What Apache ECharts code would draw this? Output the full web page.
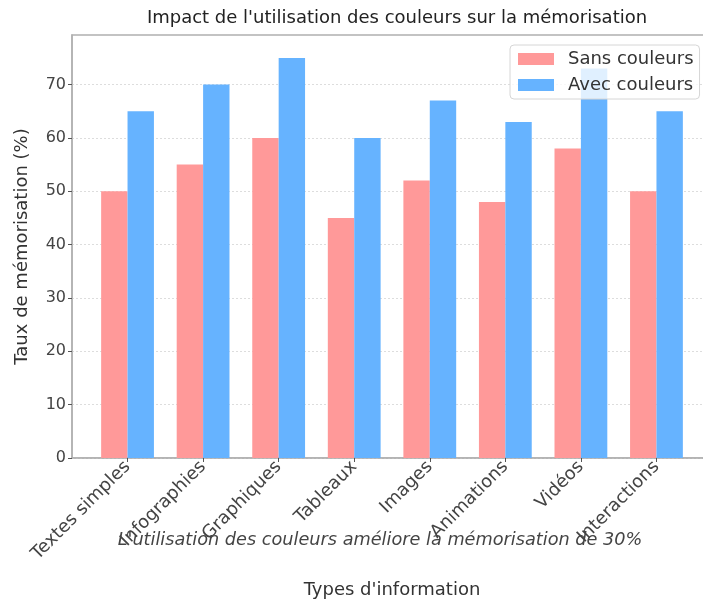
<!DOCTYPE html>
<html>
<head>
<meta charset="utf-8">
<script src="https://cdn.jsdelivr.net/npm/echarts@6/dist/echarts.min.js"></script>
<style>
html,body{margin:0;padding:0;background:#fff;}
#chart{width:703px;height:599px;}
</style>
</head>
<body>
<div id="chart"></div>
<script>
const categories = ["Textes simples", "Infographies", "Graphiques", "Tableaux", "Images", "Animations", "Vidéos", "Interactions"];
const sansCouleurs = [50, 55, 60, 45, 52, 48, 58, 50];
const avecCouleurs = [65, 70, 75, 60, 67, 63, 73, 65];
const yTicks = [0, 10, 20, 30, 40, 50, 60, 70];

const FONT = "DejaVu Sans";
const chart = echarts.init(document.getElementById('chart'), null, {renderer: 'canvas'});
const idx = categories.map((c, i) => i);

chart.setOption({
  animation: false,
  backgroundColor: '#ffffff',
  textStyle: {fontFamily: FONT},
  title: {
    text: "Impact de l'utilisation des couleurs sur la mémorisation",
    left: 392, top: 4, textAlign: 'center',
    textStyle: {fontFamily: FONT, fontSize: 18, fontWeight: 'normal', color: '#222'}
  },
  legend: {
    data: ['Sans couleurs', 'Avec couleurs'],
    orient: 'vertical',
    left: 510, top: 45,
    icon: 'rect',
    itemWidth: 36, itemHeight: 12, itemGap: 8,
    padding: [5, 6, 5, 8],
    backgroundColor: 'rgba(255,255,255,0.8)',
    borderColor: '#d6d6d6', borderWidth: 1, borderRadius: 4,
    textStyle: {fontFamily: FONT, fontSize: 18, color: '#333', padding: [0, 0, 0, 9]}
  },
  grid: {
    left: 72, top: 35, width: 640, bottom: 141,
    outerBoundsMode: 'none', containLabel: false,
    show: true, borderColor: '#b0b0b0', borderWidth: 1.5, backgroundColor: 'transparent'
  },
  xAxis: {
    type: 'value',
    min: -0.735, max: 7.735,
    axisLine: {show: true, onZero: false, lineStyle: {color: '#b0b0b0', width: 1.5}},
    splitLine: {show: false},
    axisTick: {show: true, customValues: idx, length: 4, lineStyle: {color: '#555'}},
    axisLabel: {
      customValues: idx,
      formatter: v => categories[Math.round(v)],
      rotate: 45, fontSize: 18, color: '#444', margin: 6, fontFamily: FONT
    },
    name: "Types d'information",
    nameLocation: 'middle', nameGap: 123,
    nameTextStyle: {fontFamily: FONT, fontSize: 18, color: '#333'}
  },
  yAxis: {
    type: 'value',
    min: 0, max: 79.3, interval: 10,
    axisLine: {show: true, onZero: false, lineStyle: {color: '#b0b0b0', width: 1.5}},
    axisTick: {show: true, customValues: yTicks, length: 4, lineStyle: {color: '#555'}},
    axisLabel: {
      customValues: yTicks,
      fontSize: 16, color: '#444', margin: 6, fontFamily: FONT
    },
    splitLine: {show: true, lineStyle: {color: '#dddddd', type: [2, 2], width: 1}},
    name: 'Taux de mémorisation (%)',
    nameLocation: 'middle', nameGap: 41, nameRotate: 90,
    nameTextStyle: {fontFamily: FONT, fontSize: 18, color: '#333'}
  },
  graphic: [{
    type: 'text',
    x: 380, y: 540,
    style: {
      text: "L'utilisation des couleurs améliore la mémorisation de 30%",
      font: 'italic 17.7px "DejaVu Sans"',
      fill: '#444',
      textAlign: 'center',
      textVerticalAlign: 'middle'
    }
  }],
  series: [
    {
      name: 'Sans couleurs', type: 'bar',
      data: sansCouleurs.map((v, i) => [i, v]),
      barWidth: 26.4, barGap: '0%',
      itemStyle: {color: '#ff9999'}
    },
    {
      name: 'Avec couleurs', type: 'bar',
      data: avecCouleurs.map((v, i) => [i, v]),
      barWidth: 26.4, barGap: '0%',
      itemStyle: {color: '#66b3ff'}
    }
  ]
});
</script>
</body>
</html>
